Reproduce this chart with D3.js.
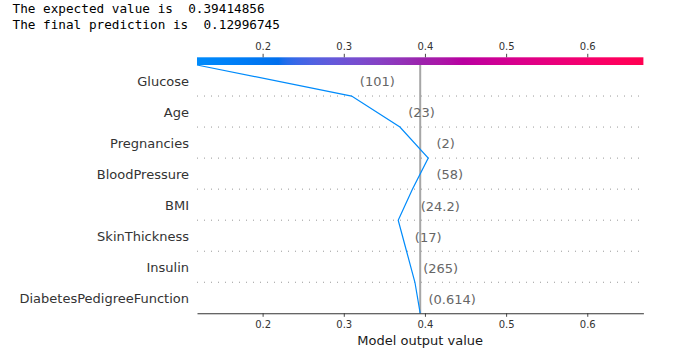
<!DOCTYPE html>
<html>
<head>
<meta charset="utf-8">
<script src="https://cdn.jsdelivr.net/npm/d3@7"></script>
<style>
  html, body { margin: 0; padding: 0; background: #fff; }
  svg { display: block; }
</style>
</head>
<body>
<svg id="chart" width="691" height="358"></svg>
<script>
// ---------------- data ----------------
const headerLines = ["The expected value is  0.39414856", "The final prediction is  0.12996745"];
const features = ["Glucose", "Age", "Pregnancies", "BloodPressure", "BMI", "SkinThickness", "Insulin", "DiabetesPedigreeFunction"];
const featureValues = ["(101)", "(23)", "(2)", "(58)", "(24.2)", "(17)", "(265)", "(0.614)"];
// SHAP contributions (top to bottom)
const shapValues = [-0.1905, -0.0595, -0.0349, 0.0195, 0.0175, -0.0103, -0.0103, -0.0065];
const baseValue = 0.39415;
const tickValues = [0.2, 0.3, 0.4, 0.5, 0.6];

(function () {
// cumulative model output at each row boundary (index 0 = top, 8 = bottom)
const n = features.length;
const cum = new Array(n + 1);
cum[n] = baseValue;
for (let i = n - 1; i >= 0; i--) cum[i] = cum[i + 1] + shapValues[i];

// ---------------- layout ----------------
const svg = d3.select("#chart");
const pLeft = 197, pRight = 643.4, pTop = 65, pBottom = 313.3;
const span = Math.max(...cum.map(v => Math.abs(v - baseValue)));
const x = d3.scaleLinear().domain([baseValue - span, baseValue + span]).range([pLeft, pRight]);
const yIdx = d3.scaleLinear().domain([0, n]).range([pTop, pBottom]);
const yBand = d3.scaleBand().domain(features).range([pTop, pBottom]).padding(0);

// shap red_blue colormap (LCH interpolation)
function lab2rgb(L, a, b) {
  const fy = (L + 16) / 116, fx = fy + a / 500, fz = fy - b / 200;
  const finv = t => t > 0.2068966 ? t * t * t : (t - 16 / 116) / 7.787;
  const X = 0.95047 * finv(fx), Y = finv(fy), Z = 1.08883 * finv(fz);
  let r = 3.2404542 * X - 1.5371385 * Y - 0.4985314 * Z;
  let g = -0.9692660 * X + 1.8760108 * Y + 0.0415560 * Z;
  let bb = 0.0556434 * X - 0.2040259 * Y + 1.0572252 * Z;
  const gam = v => v > 0.0031308 ? 1.055 * Math.pow(v, 1 / 2.4) - 0.055 : 12.92 * v;
  const cl = v => Math.max(0, Math.min(1, gam(v)));
  return d3.rgb(cl(r) * 255, cl(g) * 255, cl(bb) * 255);
}
const nsteps = 100;
const blueLch = [54, 70, 4.6588], redLch = [54, 90, 0.35470565 + 2 * Math.PI], lMid = 40;
const cmapStops = [];
for (let i = 0; i < nsteps; i++) {
  const half = nsteps / 2;
  const l = i < half ? blueLch[0] + (lMid - blueLch[0]) * i / (half - 1)
                     : lMid + (redLch[0] - lMid) * (i - half) / (half - 1);
  const c = blueLch[1] + (redLch[1] - blueLch[1]) * i / (nsteps - 1);
  const h = blueLch[2] + (redLch[2] - blueLch[2]) * i / (nsteps - 1);
  cmapStops.push({ offset: i / (nsteps - 1), color: lab2rgb(l, c * Math.cos(h), c * Math.sin(h)).formatHex() });
}
const cmap = t => {
  const k = Math.max(0, Math.min(nsteps - 1, Math.round(t * (nsteps - 1))));
  return cmapStops[k].color;
};

// ---------------- header text ----------------
svg.selectAll("text.hdr").data(headerLines).join("text")
  .attr("class", "hdr")
  .attr("x", 12.5).attr("y", (d, i) => 12.8 + i * 16.6)
  .attr("font-family", "DejaVu Sans Mono, monospace")
  .attr("font-size", 12.7)
  .attr("fill", "#000")
  .style("white-space", "pre")
  .text(d => d);

// ---------------- colorbar ----------------
const defs = svg.append("defs");
const grad = defs.append("linearGradient").attr("id", "cbar").attr("x1", "0%").attr("x2", "100%");
grad.selectAll("stop").data(cmapStops).join("stop")
  .attr("offset", d => d.offset).attr("stop-color", d => d.color);
svg.append("rect").attr("x", pLeft).attr("y", 57.3).attr("width", pRight - pLeft).attr("height", 7.7)
  .attr("fill", "url(#cbar)");

const topAxis = svg.append("g").attr("transform", `translate(0,57.3)`)
  .call(d3.axisTop(x).tickValues(tickValues).tickFormat(d3.format(".1f")).tickSize(3.5).tickPadding(3.5));
topAxis.select(".domain").remove();
topAxis.selectAll("line").attr("stroke", "#333").attr("stroke-width", 0.9);
topAxis.selectAll("text").attr("fill", "#333").attr("font-family", "DejaVu Sans, sans-serif").attr("font-size", 10);

// ---------------- grid lines ----------------
svg.append("g").selectAll("line").data(d3.range(1, n)).join("line")
  .attr("x1", pLeft).attr("x2", pRight)
  .attr("y1", d => yIdx(d)).attr("y2", d => yIdx(d))
  .attr("stroke", "#999").attr("stroke-width", 1)
  .attr("stroke-dasharray", "1,6");

// expected value line
svg.append("line")
  .attr("x1", x(baseValue)).attr("x2", x(baseValue))
  .attr("y1", pTop).attr("y2", pBottom)
  .attr("stroke", "#a6a6a6").attr("stroke-width", 2);

// ---------------- decision line ----------------
const lineColor = cmap((cum[0] - x.domain()[0]) / (x.domain()[1] - x.domain()[0]));
svg.append("path")
  .datum(cum.map((v, i) => [v, i]))
  .attr("d", d3.line().x(d => x(d[0])).y(d => yIdx(d[1])))
  .attr("fill", "none").attr("stroke", lineColor).attr("stroke-width", 1.2);

// ---------------- feature value labels ----------------
svg.append("g").selectAll("text").data(featureValues).join("text")
  .attr("x", (d, i) => x(Math.max(cum[i], cum[i + 1])))
  .attr("y", (d, i) => yBand(features[i]) + yBand.bandwidth() / 2)
  .attr("dy", "0.45em")
  .attr("font-family", "DejaVu Sans, sans-serif").attr("font-size", 13)
  .attr("fill", "#666666")
  .style("white-space", "pre")
  .text(d => "  " + d);

// ---------------- y labels ----------------
const yAxis = svg.append("g").attr("transform", `translate(${pLeft},0)`)
  .call(d3.axisLeft(yBand).tickSize(0).tickPadding(8));
yAxis.select(".domain").remove();
yAxis.selectAll("text").attr("fill", "#333").attr("font-family", "DejaVu Sans, sans-serif").attr("font-size", 13)
  .attr("dy", "0.4em");

// ---------------- bottom axis ----------------
const xAxis = svg.append("g").attr("transform", `translate(0,${pBottom})`)
  .call(d3.axisBottom(x).tickValues(tickValues).tickFormat(d3.format(".1f")).tickSize(3.5).tickSizeOuter(0).tickPadding(4));
xAxis.select(".domain").attr("stroke", "#333").attr("stroke-width", 1.1);
xAxis.selectAll(".tick line").attr("stroke", "#333").attr("stroke-width", 0.9);
xAxis.selectAll("text").attr("fill", "#333").attr("font-family", "DejaVu Sans, sans-serif").attr("font-size", 10);

svg.append("text")
  .attr("x", (pLeft + pRight) / 2).attr("y", 345)
  .attr("text-anchor", "middle")
  .attr("font-family", "DejaVu Sans, sans-serif").attr("font-size", 13)
  .attr("fill", "#1a1a1a")
  .text("Model output value");
})();
</script>
</body>
</html>
